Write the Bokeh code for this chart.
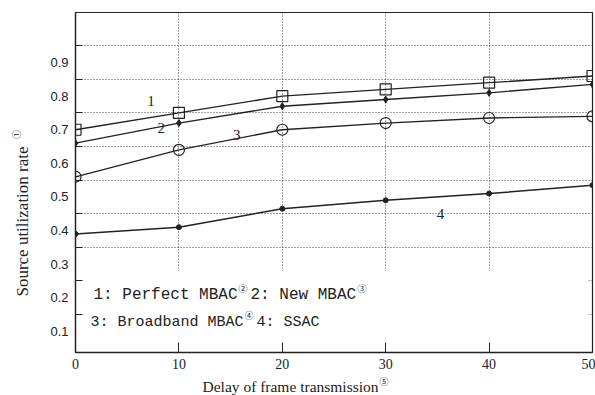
import math
from bokeh.plotting import figure
from bokeh.layouts import row, column
from bokeh.models import FixedTicker, Label, BoxAnnotation, Range1d
from bokeh.embed import file_html
from bokeh.resources import INLINE

# ---- data ----
delay = [0, 10, 20, 30, 40, 50]
perfect_mbac = [0.70, 0.75, 0.80, 0.82, 0.84, 0.86]
new_mbac = [0.66, 0.72, 0.77, 0.79, 0.81, 0.835]
broadband_mbac = [0.56, 0.64, 0.70, 0.72, 0.735, 0.74]
ssac = [0.39, 0.41, 0.465, 0.49, 0.51, 0.535]

x_ticks = [0, 10, 20, 30, 40, 50]
y_ticks = [0.1, 0.2, 0.3, 0.4, 0.5, 0.6, 0.7, 0.8, 0.9]
y_grid = [0.15, 0.25, 0.35, 0.45, 0.55, 0.65, 0.75, 0.85, 0.95]

x_title = "Delay of frame transmission"
y_title = "Source utilization rate"

SERIF = "Liberation Serif"
SANS = "Liberation Sans"
MONO = "Liberation Mono"
CIRC = "Noto Sans CJK SC"
INK = "#222222"


def strip(width, height, xr, yr):
    f = figure(width=width, height=height, output_backend="svg",
               toolbar_location=None, x_range=Range1d(*xr), y_range=Range1d(*yr),
               x_axis_location=None, y_axis_location=None,
               min_border=0, min_border_left=0, min_border_right=0,
               min_border_top=0, min_border_bottom=0)
    f.outline_line_color = None
    f.xgrid.visible = False
    f.ygrid.visible = False
    f.background_fill_color = "white"
    f.border_fill_color = "white"
    return f


# ---- main plot ----
p = figure(width=550, height=374, output_backend="svg", toolbar_location=None,
           x_range=Range1d(0, 50), y_range=Range1d(0.037, 1.049),
           min_border_left=30, min_border_right=3, min_border_top=12,
           min_border_bottom=22)
p.background_fill_color = "white"
p.border_fill_color = "white"
p.outline_line_color = INK
p.outline_line_width = 1.2

p.xaxis.ticker = FixedTicker(ticks=x_ticks)
p.xaxis.major_tick_in = 10
p.xaxis.major_tick_out = 0
p.xaxis.minor_tick_line_color = None
p.xaxis.major_label_standoff = 6
p.xaxis.major_label_text_font = SERIF
p.xaxis.major_label_text_font_size = "14px"
p.xaxis.major_label_text_color = INK
p.xaxis.axis_line_color = INK
p.xaxis.axis_line_width = 1.3
p.xaxis.major_tick_line_color = INK

p.yaxis.ticker = FixedTicker(ticks=y_ticks, minor_ticks=y_grid)
p.yaxis.major_tick_in = 0
p.yaxis.major_tick_out = 0
p.yaxis.minor_tick_in = 7
p.yaxis.minor_tick_out = 0
p.yaxis.minor_tick_line_color = INK
p.yaxis.major_label_standoff = 7
p.yaxis.major_label_text_font = SANS
p.yaxis.major_label_text_font_size = "13px"
p.yaxis.major_label_text_color = INK
p.yaxis.axis_line_color = INK
p.yaxis.axis_line_width = 1.3

p.xgrid.ticker = FixedTicker(ticks=x_ticks)
p.ygrid.ticker = FixedTicker(ticks=y_grid)
for g in (p.xgrid, p.ygrid):
    g.grid_line_color = "#444444"
    g.grid_line_dash = "1 2"
    g.grid_line_width = 1

# blank area behind the legend text
p.add_layout(BoxAnnotation(left=0.4, right=49.6, bottom=None, top=0.28,
                           fill_color="white", fill_alpha=1.0, line_color=None,
                           level="underlay"))

# series
p.line(delay, perfect_mbac, line_color=INK, line_width=1.3)
p.scatter(delay, perfect_mbac, marker="square", size=11, fill_color=None,
          line_color=INK, line_width=1.2)

p.line(delay, new_mbac, line_color=INK, line_width=1.3)
p.scatter(delay, new_mbac, marker="diamond", size=7, fill_color=INK,
          line_color=INK)

p.line(delay, broadband_mbac, line_color=INK, line_width=1.3)
p.scatter(delay, broadband_mbac, marker="circle", size=11, fill_color=None,
          line_color=INK, line_width=1.2)

p.line(delay, ssac, line_color=INK, line_width=1.5)
p.scatter(delay, ssac, marker="circle", size=5, fill_color=INK, line_color=INK)

# curve numbers
for t, xx, yy in [("1", 7.3, 0.787), ("2", 8.3, 0.704), ("3", 15.6, 0.683), ("4", 35.3, 0.45)]:
    p.add_layout(Label(x=xx, y=yy, text=t, text_font=SERIF, text_font_size="15px",
                       text_color=INK, text_align="center", text_baseline="middle"))


def piece(text, xoff, y, size="15px", font=MONO):
    p.add_layout(Label(x=0, y=y, x_offset=xoff, text=text, text_font=font,
                       text_font_size=size, text_color=INK,
                       text_align="left", text_baseline="middle"))


y1, y2 = 0.207, 0.126
piece("1: Perfect MBAC", 18, y1, size="16px")
piece("②", 163, y1 + 0.02, size="9px", font=CIRC)
piece("2: New MBAC", 175, y1, size="16px")
piece("③", 282, y1 + 0.02, size="9px", font=CIRC)
piece("3: Broadband MBAC", 15, y2)
piece("④", 169, y2 + 0.02, size="9px", font=CIRC)
piece("4: SSAC", 181, y2)

# ---- axis title strips (ranges map to absolute page pixels) ----
ylab = strip(45, 395, (0, 45), (395, 0))
ylab.add_layout(Label(x=22, y=221, text=y_title, text_font=SERIF,
                      text_font_size="17px", text_color=INK,
                      text_align="center", text_baseline="middle",
                      angle=math.pi / 2))
ylab.add_layout(Label(x=16, y=134, text="①", text_font=CIRC,
                      text_font_size="9px", text_color=INK,
                      text_align="center", text_baseline="middle",
                      angle=math.pi / 2))

# the strip's frame is aligned with the main frame (page x 75..592)
xlab = strip(550, 21, (75, 592), (395, 374))
xlab.add_layout(Label(x=202, y=386, text=x_title, text_font=SERIF,
                      text_font_size="15.5px", text_color=INK,
                      text_align="left", text_baseline="middle"))
xlab.add_layout(Label(x=379, y=380.5, text="⑤", text_font=CIRC,
                      text_font_size="9px", text_color=INK,
                      text_align="left", text_baseline="middle"))

layout = row(ylab, column(p, xlab, spacing=0), spacing=0)
open("out.html", "w").write(file_html(layout, INLINE))
